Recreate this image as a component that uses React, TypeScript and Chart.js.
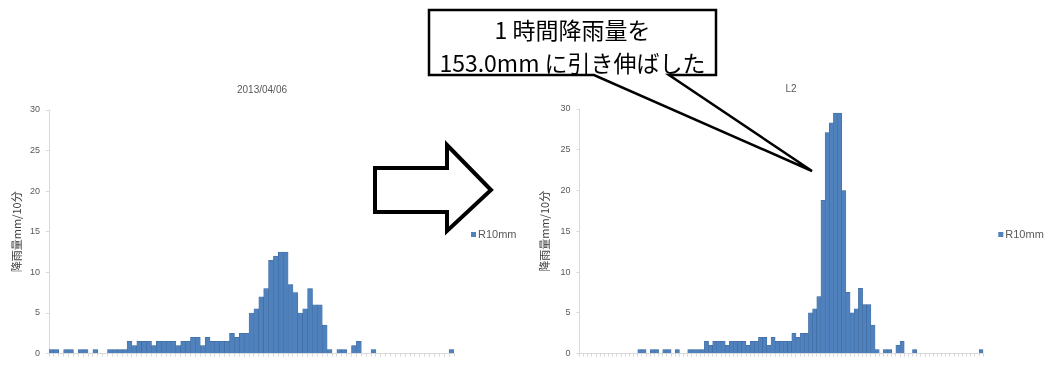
import React, { useEffect, useRef } from 'react';
import { Chart, registerables } from 'chart.js';

Chart.register(...registerables);

// ---------- data ----------
const leftTitle = '2013/04/06';
const rightTitle = 'L2';
const seriesName = 'R10mm';
const yAxisTitle = '降雨量mm/10分';
const yMin = 0;
const yMax = 30;
const yStep = 5;

// 10-minute rainfall (mm), original event
const leftValues = [
  0.5, 0.5, 0, 0.5, 0.5, 0, 0.5, 0.5, 0, 0.5,
  0, 0, 0.5, 0.5, 0.5, 0.5, 1.5, 1.0, 1.5, 1.5,
  1.5, 1.0, 1.5, 1.5, 1.5, 1.5, 1.0, 1.5, 1.5, 2.0,
  2.0, 1.0, 2.0, 1.5, 1.5, 1.5, 1.5, 2.5, 2.0, 2.5,
  2.5, 5.0, 5.5, 7.0, 8.0, 11.5, 12.0, 12.5, 12.5, 8.5,
  7.5, 5.0, 5.5, 8.0, 6.0, 6.0, 3.5, 0.5, 0, 0.5,
  0.5, 0, 1.0, 1.5, 0, 0, 0.5, 0, 0, 0,
  0, 0, 0, 0, 0, 0, 0, 0, 0, 0,
  0, 0, 0.5,
];

// 10-minute rainfall (mm), stretched event L2
const rightValues = [
  0, 0, 0, 0, 0, 0, 0, 0, 0, 0, 0, 0, 0, 0,
  0.5, 0.5, 0, 0.5, 0.5, 0, 0.5, 0.5, 0, 0.5,
  0, 0, 0.5, 0.5, 0.5, 0.5, 1.5, 1.0, 1.5, 1.5,
  1.5, 1.0, 1.5, 1.5, 1.5, 1.5, 1.0, 1.5, 1.5, 2.0,
  2.0, 1.0, 2.0, 1.5, 1.5, 1.5, 1.5, 2.5, 2.0, 2.5,
  2.5, 5.0, 5.5, 7.0, 18.8, 27.1, 28.3, 29.5, 29.5, 20.0,
  7.5, 5.0, 5.5, 8.0, 6.0, 6.0, 3.5, 0.5, 0, 0.5,
  0.5, 0, 1.0, 1.5, 0, 0, 0.5, 0, 0, 0,
  0, 0, 0, 0, 0, 0, 0, 0, 0, 0,
  0, 0, 0.5,
];

const leftCategories = leftValues.map((_, i) => String(i + 1));
const rightCategories = rightValues.map((_, i) => String(i + 1));

const calloutLine1 = '1 時間降雨量を';
const calloutLine2 = '153.0mm に引き伸ばした';

// ---------- styles ----------
const BAR_FILL = '#4f81bd';
const BAR_EDGE = '#3c679c';
const AXIS_COLOR = '#d9d9d9';
const TEXT_COLOR = '#595959';
const JP_FONT = '"Noto Sans CJK JP", "Noto Sans", sans-serif';
const LAT_FONT = '"Liberation Sans", "Noto Sans", sans-serif';

type Layout = {
  padLeft: number;
  padRight: number;
  padTop: number;
  yWidth: number;
  xHeight: number;
  titleX: number;
  titleY: number;
  legendX: number;
  legendY: number;
};

function decorPlugin(lay: Layout, title: string) {
  return {
    id: 'titleAndLegend',
    afterDraw(chart: any) {
      const ctx = chart.ctx;
      const ds = chart.data.datasets[0];
      ctx.save();
      // chart title
      ctx.fillStyle = TEXT_COLOR;
      ctx.font = `10px ${LAT_FONT}`;
      ctx.textBaseline = 'middle';
      ctx.textAlign = 'center';
      ctx.fillText(title, lay.titleX, lay.titleY);
      // legend
      ctx.fillStyle = BAR_FILL;
      ctx.fillRect(lay.legendX, lay.legendY, 5, 5);
      ctx.fillStyle = TEXT_COLOR;
      ctx.font = `11px ${LAT_FONT}`;
      ctx.textAlign = 'left';
      ctx.fillText(ds.label, lay.legendX + 7, lay.legendY + 2.5);
      ctx.restore();
    },
  };
}

function makeConfig(labels: string[], values: number[], title: string, lay: Layout): any {
  return {
    type: 'bar',
    data: {
      labels,
      datasets: [
        {
          label: seriesName,
          data: values,
          backgroundColor: BAR_FILL,
          borderColor: BAR_EDGE,
          borderWidth: 0.5,
          categoryPercentage: 1,
          barPercentage: 1,
        },
      ],
    },
    options: {
      responsive: false,
      animation: false,
      events: [],
      layout: { padding: { left: lay.padLeft, right: lay.padRight, top: lay.padTop, bottom: 0 } },
      plugins: {
        legend: { display: false },
        tooltip: { enabled: false },
        title: { display: false },
      },
      scales: {
        x: {
          grid: {
            display: true,
            drawOnChartArea: false,
            drawTicks: true,
            tickLength: 3,
            color: AXIS_COLOR,
          },
          border: { display: true, color: AXIS_COLOR },
          ticks: { display: false },
          afterFit: (s: any) => {
            s.height = lay.xHeight;
          },
        },
        y: {
          min: yMin,
          max: yMax,
          ticks: {
            stepSize: yStep,
            color: TEXT_COLOR,
            padding: 6,
            font: { family: LAT_FONT, size: 9 },
          },
          grid: {
            drawOnChartArea: false,
            drawTicks: true,
            tickLength: 3,
            color: AXIS_COLOR,
          },
          border: { display: true, color: AXIS_COLOR },
          title: {
            display: true,
            text: yAxisTitle,
            color: '#404040',
            font: { family: JP_FONT, size: 11 },
            padding: 0,
          },
          afterFit: (s: any) => {
            s.width = lay.yWidth;
          },
        },
      },
    },
    plugins: [decorPlugin(lay, title)],
  };
}

function BarChart(props: {
  labels: string[];
  values: number[];
  title: string;
  lay: Layout;
  left: number;
  top: number;
  width: number;
  height: number;
}) {
  const ref = useRef<HTMLCanvasElement | null>(null);
  useEffect(() => {
    if (!ref.current) return;
    const chart = new Chart(ref.current, makeConfig(props.labels, props.values, props.title, props.lay));
    return () => chart.destroy();
  }, []);
  return (
    <canvas
      ref={ref}
      width={props.width}
      height={props.height}
      style={{
        position: 'absolute',
        left: props.left,
        top: props.top,
        width: props.width,
        height: props.height,
      }}
    />
  );
}

const leftLayout: Layout = {
  padLeft: 10,
  padRight: 70,
  padTop: 30,
  yWidth: 39,
  xHeight: 6,
  titleX: 262,
  titleY: 10,
  legendX: 471,
  legendY: 152,
};

const rightLayout: Layout = {
  padLeft: 4.4,
  padRight: 64.7,
  padTop: 29,
  yWidth: 41.1,
  xHeight: 7.3,
  titleX: 257,
  titleY: 9.5,
  legendX: 464.3,
  legendY: 152,
};

export default function App() {
  return (
    <div
      style={{
        position: 'absolute',
        left: 0,
        top: 0,
        width: 1048,
        height: 365,
        background: '#ffffff',
        overflow: 'hidden',
      }}
    >
      <BarChart
        labels={leftCategories}
        values={leftValues}
        title={leftTitle}
        lay={leftLayout}
        left={0}
        top={80}
        width={524}
        height={285}
      />
      <BarChart
        labels={rightCategories}
        values={rightValues}
        title={rightTitle}
        lay={rightLayout}
        left={534}
        top={80}
        width={514}
        height={285}
      />
      <svg
        width={1048}
        height={365}
        style={{ position: 'absolute', left: 0, top: 0, pointerEvents: 'none' }}
      >
        <polygon
          points="375,168 447,168 447,145 491,190 447,231 447,212 375,212"
          fill="#ffffff"
          stroke="#000000"
          strokeWidth={4}
          strokeLinejoin="miter"
        />
        <path
          d="M429,10 H716 V75 H669 L812,171 L594,75 H429 Z"
          fill="#ffffff"
          stroke="#000000"
          strokeWidth={2.5}
          strokeLinejoin="miter"
        />
        <text
          x={572.5}
          y={39}
          textAnchor="middle"
          fontSize={23}
          fontFamily={JP_FONT}
          fill="#000000"
        >
          {calloutLine1}
        </text>
        <text
          x={572.5}
          y={72}
          textAnchor="middle"
          fontSize={23}
          fontFamily={JP_FONT}
          fill="#000000"
        >
          {calloutLine2}
        </text>
      </svg>
    </div>
  );
}
